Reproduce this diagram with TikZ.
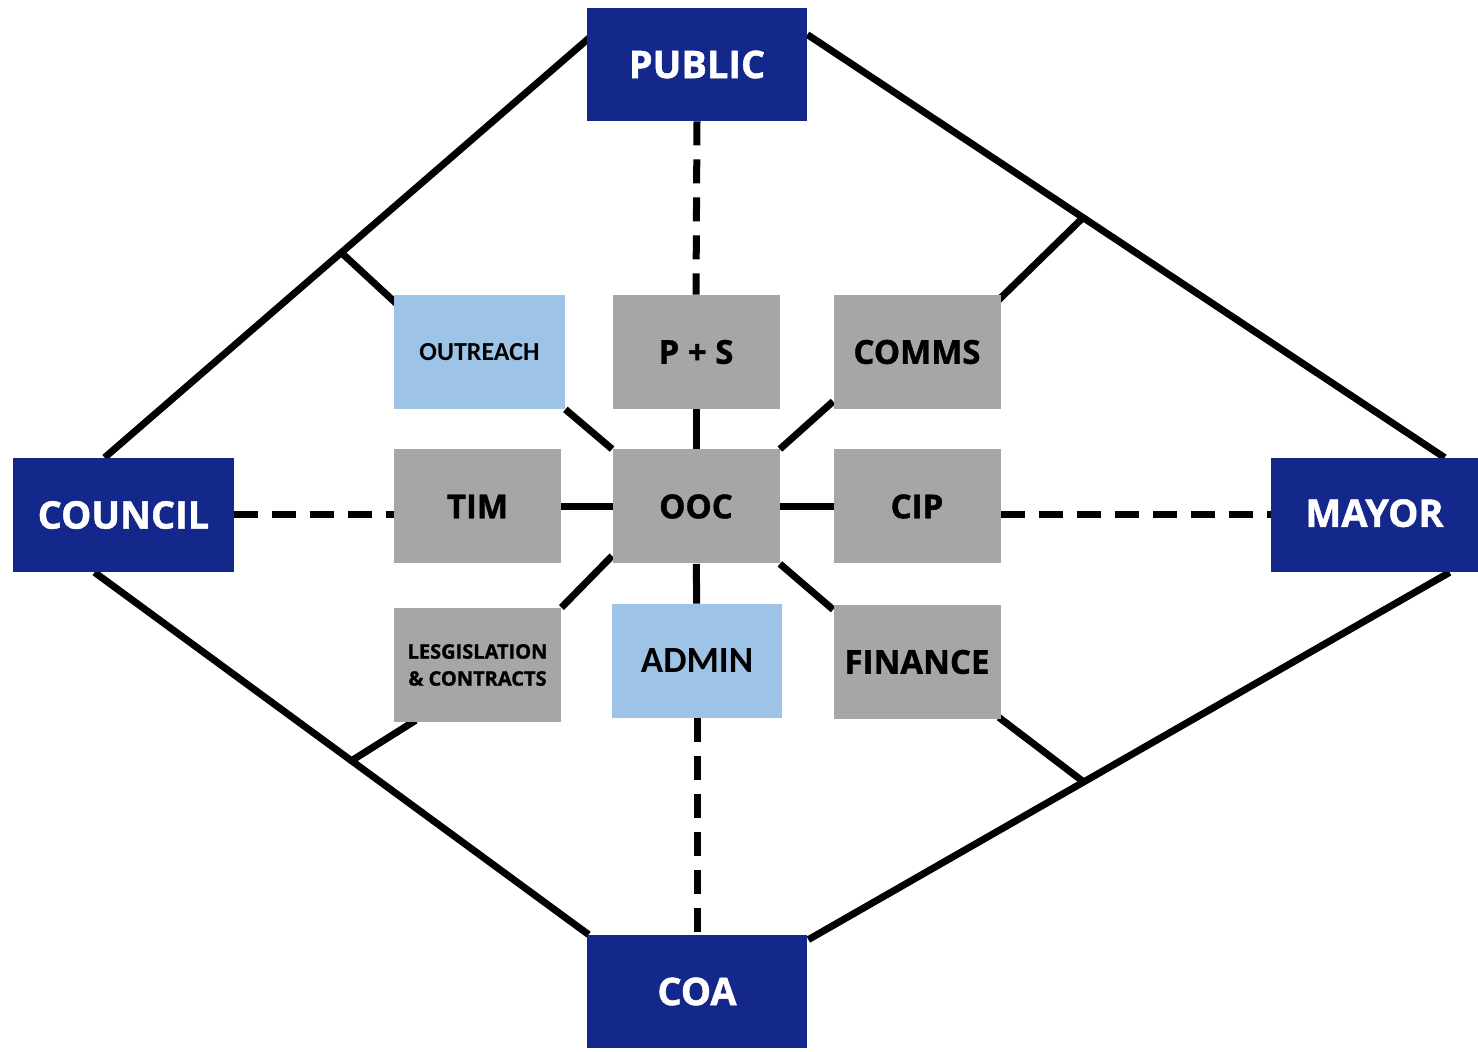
\documentclass[tikz,border=0pt]{standalone}
\usepackage{fontspec}
\setmainfont{Open Sans}[BoldFeatures={FakeBold=1.2}]
\newfontfamily\calfont{Carlito}
\usetikzlibrary{calc,backgrounds}
\definecolor{navy}{HTML}{13288A}
\definecolor{boxgray}{HTML}{A6A6A6}
\definecolor{lblue}{HTML}{9DC3E6}
\tikzset{
  darkbox/.style={fill=navy, text=white, font=\bfseries\fontsize{19}{22}\selectfont, minimum height=56.5pt, inner sep=0pt},
  graybox/.style={fill=boxgray, text=black, font=\bfseries\fontsize{16.5}{19}\selectfont, minimum width=83.5pt, minimum height=57pt, inner sep=0pt},
  bluebox/.style={fill=lblue, text=black, minimum height=57pt, inner sep=0pt},
  link/.style={line width=3.5pt, black},
  dlink/.style={line width=3.5pt, black, dash pattern=on 12pt off 7pt},
}
\begin{document}
\begin{tikzpicture}[x=0.5pt, y=-0.5pt]
\useasboundingbox (0,0) rectangle (1478,1052);
% outer boxes
\node[darkbox, minimum width=110pt] (public) at (697,64.5) {PUBLIC};
\node[darkbox, minimum width=110.5pt, minimum height=57pt] (council) at (123.5,515) {COUNCIL};
\node[darkbox, minimum width=103.5pt, minimum height=57pt] (mayor) at (1374.5,515) {\raisebox{2pt}{MAYOR}};
\node[darkbox, minimum width=110pt] (coa) at (697,991.5) {COA};
% inner boxes
\node[bluebox, minimum width=85.5pt, font=\calfont\bfseries\fontsize{13}{15}\selectfont] (outreach) at (479.5,352) {\raisebox{-1.5pt}{OUTREACH}};
\node[graybox] (ps) at (696,352) {\raisebox{-2.5pt}{P + S}};
\node[graybox] (comms) at (917,352) {COMMS};
\node[graybox] (tim) at (477.5,506.5) {\raisebox{-2pt}{TIM}};
\node[graybox] (ooc) at (696,506.5) {OOC};
\node[graybox] (cip) at (917,506.5) {\raisebox{-1pt}{CIP}};
\node[graybox, align=center, font=\bfseries\fontsize{10}{13.5}\selectfont] (leg) at (477.5,665) {LESGISLATION\\\& CONTRACTS};
\node[bluebox, minimum width=85pt, font=\calfont\bfseries\fontsize{18.5}{21}\selectfont] (admin) at (697,661) {\raisebox{-3pt}{ADMIN}};
\node[graybox] (finance) at (917,662) {FINANCE};
\begin{pgfonlayer}{background}
% diamond
\coordinate (pl) at ($(public.north west)+(3,30)$);
\coordinate (pr) at ($(public.north east)+(0,27)$);
\coordinate (ct) at ($(council.north west)+(92,0)$);
\coordinate (cb) at ($(council.south west)+(82,0)$);
\coordinate (mt) at ($(mayor.north west)+(174,0)$);
\coordinate (mb) at ($(mayor.south west)+(179,0)$);
\coordinate (ol) at ($(coa.north west)+(2,0)$);
\coordinate (or) at ($(coa.north east)+(1,5)$);
\draw[link] (pl) -- (ct);
\draw[link] (pr) -- (mt);
\draw[link] (cb) -- (ol);
\draw[link] (mb) -- (or);
% branches
\coordinate (j1) at ($(pl)!0.512!(ct)$);
\coordinate (j2) at ($(pr)!0.4326!(mt)$);
\coordinate (j3) at ($(cb)!0.52!(ol)$);
\coordinate (j4) at ($(mb)!0.5707!(or)$);
\draw[link] (j1) -- ($(outreach.north west)+(6,12)$);
\draw[link] (j2) -- ($(comms.north east)+(-6,9)$);
\draw[link] (j3) -- ($(leg.south west)+(22,-2)$);
\draw[link] (j4) -- ($(finance.south east)+(-2,-2)$);
% dashed
\draw[dlink] (public.south) -- (ps.north);
\draw[dlink] (council.east) -- (council.east -| tim.west);
\draw[dlink] (mayor.west -| cip.east) -- (mayor.west);
\draw[dlink] (admin.south) -- (coa.north);
% hub
\draw[link] (ooc) -- (ps);
\draw[link] (ooc) -- (admin);
\draw[link] (ooc.center) -- (ooc.center -| tim.east) -- ++(-10,0);
\draw[link] (ooc.center) -- (ooc.center -| cip.west) -- ++(10,0);
\draw[link] (ooc.north west) -- (outreach.south east);
\draw[link] (ooc.north east) -- ($(comms.south west)+(0,-8)$);
\draw[link] ($(ooc.south west)+(0,-8)$) -- (leg.north east);
\draw[link] (ooc.south east) -- ($(finance.north west)+(0,5)$);
\end{pgfonlayer}
\end{tikzpicture}
\end{document}
